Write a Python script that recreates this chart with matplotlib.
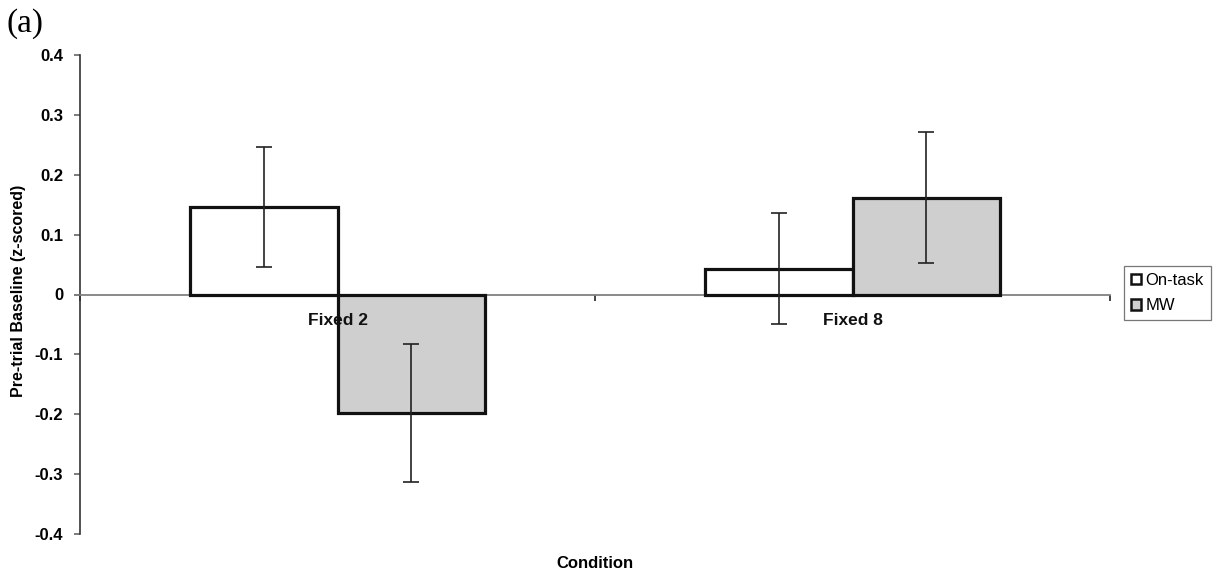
import numpy as np
import matplotlib
matplotlib.use("Agg")
import matplotlib.pyplot as plt
from matplotlib.patches import Patch

plt.rcParams["font.family"] = ["Liberation Sans", "DejaVu Sans"]

# data
conditions = ["Fixed 2", "Fixed 8"]
series_names = ["On-task", "MW"]
on_task = [0.146, 0.043]
on_task_err = [0.100, 0.093]
mw = [-0.198, 0.162]
mw_err = [0.115, 0.110]
y_ticks = [-0.4, -0.3, -0.2, -0.1, 0.0, 0.1, 0.2, 0.3, 0.4]
y_tick_labels = ["-0.4", "-0.3", "-0.2", "-0.1", "0", "0.1", "0.2", "0.3", "0.4"]

W, H = 1216, 577
fig = plt.figure(figsize=(W / 100, H / 100), dpi=100)
ax = fig.add_axes([80 / W, 1 - 534 / H, 1030 / W, 479 / H])

x = np.arange(len(conditions))
bw = 0.287
bar_kw = dict(edgecolor="#111111", linewidth=2.3, zorder=3)
err_kw = dict(fmt="none", ecolor="#222222", elinewidth=1.2, capsize=6,
              capthick=1.2, zorder=4)

ax.bar(x - bw / 2, on_task, bw, color="white", **bar_kw)
ax.bar(x + bw / 2, mw, bw, color="#cfcfcf", **bar_kw)
ax.errorbar(x - bw / 2, on_task, yerr=on_task_err, **err_kw)
ax.errorbar(x + bw / 2, mw, yerr=mw_err, **err_kw)

ax.set_xlim(-0.5, len(conditions) - 0.5)
ax.set_ylim(-0.4, 0.4)

# axes styling (Excel look)
for s in ["top", "right"]:
    ax.spines[s].set_visible(False)
ax.spines["bottom"].set_position(("data", 0))
ax.spines["bottom"].set_color("#808080")
ax.spines["bottom"].set_linewidth(1.3)
ax.spines["left"].set_color("#333333")
ax.spines["left"].set_linewidth(1.2)

ax.set_yticks(y_ticks)
ax.set_yticklabels(y_tick_labels, fontweight="bold", fontsize=12)
ax.tick_params(axis="y", length=4, width=1.2, color="#666666", pad=8)

ax.set_xticks([])
ax.set_xticks(np.arange(len(conditions) + 1) - 0.5, minor=True)
ax.tick_params(axis="x", which="minor", length=4, width=1.2,
               color="#222222", direction="out", labelbottom=False)

for i, name in enumerate(conditions):
    ax.annotate(name, xy=(i, 0), xytext=(0, -18.5), textcoords="offset points",
                ha="center", va="center", fontsize=12.5, fontweight="bold",
                color="#111111", zorder=5)

fig.text(19 / W, 1 - 291 / H, "Pre-trial Baseline (z-scored)", rotation=90,
         ha="center", va="center", fontsize=11.5, fontweight="bold")
fig.text(595 / W, 1 - 564 / H, "Condition", ha="center", va="center",
         fontsize=12, fontweight="bold")
fig.text(6 / W, 1 - 24 / H, "(a)", ha="left", va="center", fontsize=24,
         family=["Liberation Serif", "DejaVu Serif"])

handles = [Patch(facecolor="white", edgecolor="#111111", linewidth=1.8),
           Patch(facecolor="#cfcfcf", edgecolor="#111111", linewidth=1.8)]
leg = ax.legend(handles, series_names, loc="upper left",
                bbox_to_anchor=(1124 / W, 1 - 266 / H),
                bbox_transform=fig.transFigure, fontsize=12, frameon=True,
                fancybox=False, handlelength=0.6, handleheight=0.6,
                handletextpad=0.3, labelspacing=0.65, borderpad=0.4,
                borderaxespad=0)
leg.get_frame().set_edgecolor("#555555")
leg.get_frame().set_linewidth(0.9)

fig.savefig("out.png", dpi=100)
